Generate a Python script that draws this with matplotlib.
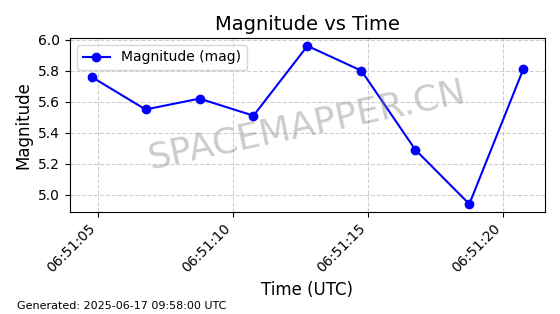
import matplotlib
matplotlib.use("Agg")
import matplotlib.pyplot as plt
import matplotlib.dates as mdates
import pandas as pd

# data
times = ["2025-06-17 06:51:04.75", "2025-06-17 06:51:06.75", "2025-06-17 06:51:08.75",
         "2025-06-17 06:51:10.75", "2025-06-17 06:51:12.75", "2025-06-17 06:51:14.75",
         "2025-06-17 06:51:16.75", "2025-06-17 06:51:18.75", "2025-06-17 06:51:20.75"]
magnitudes = [5.76, 5.55, 5.62, 5.51, 5.96, 5.80, 5.29, 4.94, 5.81]
generated = "Generated: 2025-06-17 09:58:00 UTC"

t = pd.to_datetime(times)

fig = plt.figure(figsize=(5.6, 3.14), dpi=100)
ax = fig.add_axes([0.125, 0.325, 0.848, 0.554])

ax.plot(t, magnitudes, marker="o", color="blue", markersize=6, linewidth=1.5,
        label="Magnitude (mag)")

ax.set_title("Magnitude vs Time", fontsize=14)
ax.set_xlabel("Time (UTC)", fontsize=12)
ax.set_ylabel("Magnitude", fontsize=12)
ax.grid(True, linestyle="--", alpha=0.6)
ax.legend(loc="upper left")

ax.xaxis.set_major_locator(mdates.SecondLocator(bysecond=[5, 10, 15, 20]))
ax.xaxis.set_major_formatter(mdates.DateFormatter("%H:%M:%S"))
plt.setp(ax.get_xticklabels(), rotation=45, ha="right")
ax.set_yticks([5.0, 5.2, 5.4, 5.6, 5.8, 6.0])

# watermark
ax.text(0.5, 0.5, "SPACEMAPPER.CN", transform=ax.transAxes, fontsize=26,
        color="gray", alpha=0.4, rotation=12, ha="center", va="center")

fig.text(0.03, 0.01, generated, fontsize=8, ha="left", va="bottom")

fig.savefig("out.png", dpi=100)
